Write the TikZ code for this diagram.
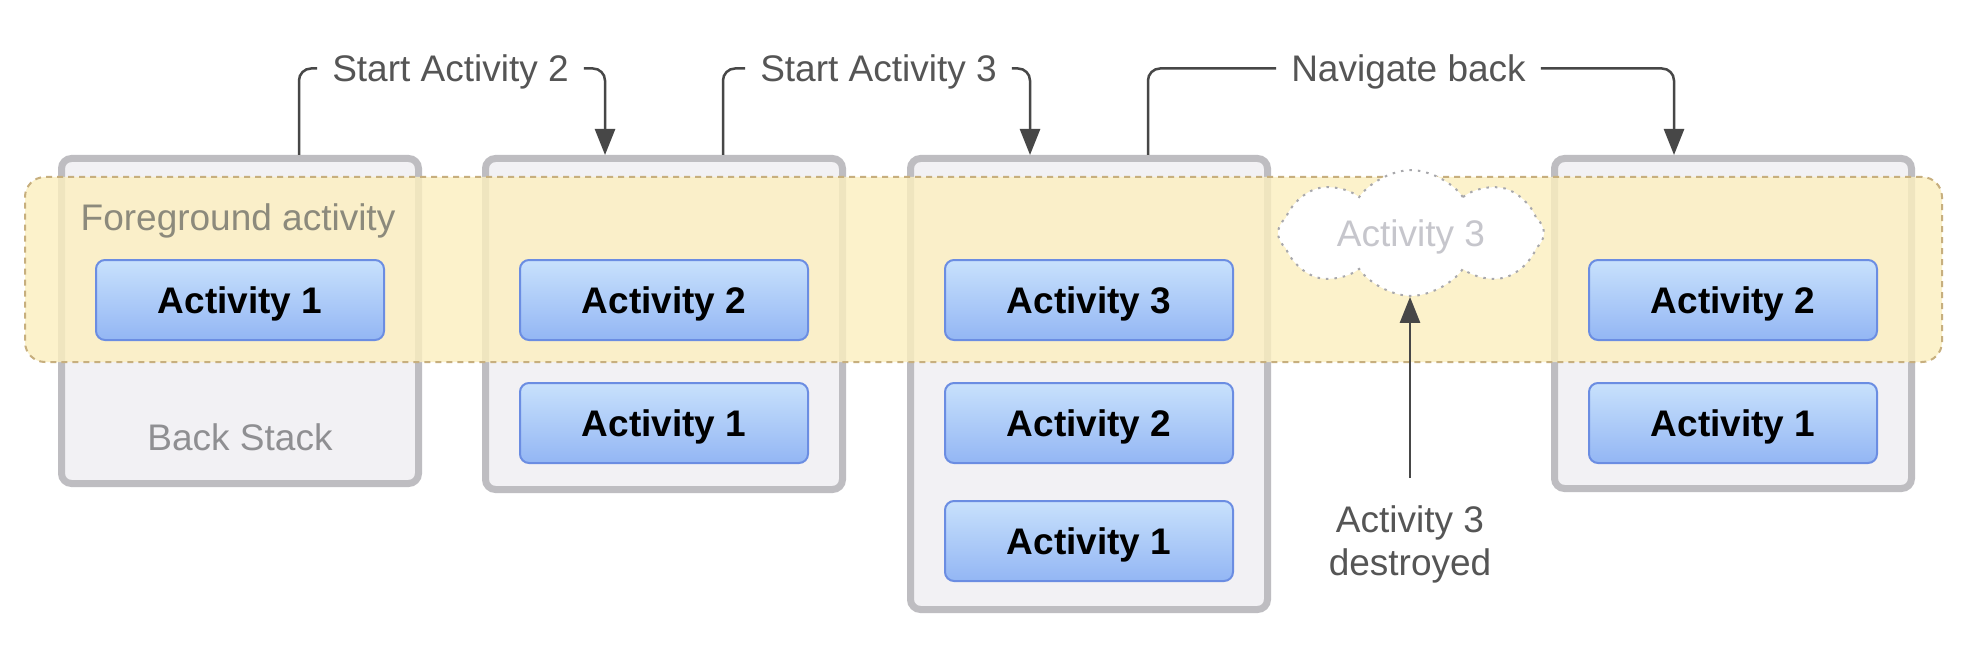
\documentclass[tikz,border=0pt]{standalone}
\usepackage{fontspec}
\setmainfont{Liberation Sans}
\usetikzlibrary{shapes.symbols,arrows.meta,calc}
\definecolor{boxfill}{HTML}{F2F1F4}
\definecolor{boxline}{HTML}{BEBDC1}
\definecolor{bandfill}{HTML}{FCEFBF}
\definecolor{bandline}{HTML}{C7AF7E}
\definecolor{btntop}{HTML}{C8E1FC}
\definecolor{btnbot}{HTML}{93B6F4}
\definecolor{btnline}{HTML}{6B8DE2}
\definecolor{conncol}{HTML}{474747}
\definecolor{labeltext}{HTML}{555555}
\definecolor{fgtext}{HTML}{8C8A7C}
\definecolor{bstext}{HTML}{8F8F92}
\definecolor{ghost}{HTML}{C6C6CC}
\definecolor{cloudline}{HTML}{A8A8AC}
\newcommand{\bigfont}{\fontsize{37}{43}\selectfont}
\begin{document}
\begin{tikzpicture}[x=1pt,y=-1pt,
  stackbox/.style={draw=boxline, line width=7pt, fill=boxfill, rounded corners=10pt,
    minimum width=357pt, outer sep=3.5pt, inner sep=0pt},
  actbtn/.style={draw=btnline, line width=2pt, top color=btntop, bottom color=btnbot,
    rounded corners=9pt, minimum width=288pt, minimum height=80pt,
    font=\bfseries\bigfont, text=black, text height=26.5pt, text depth=0pt, inner sep=0pt},
  steplabel/.style={font=\bigfont, text=labeltext, inner xsep=15pt, inner ysep=0pt,
    text height=26.5pt, text depth=0pt},
  plainlabel/.style={font=\bigfont, inner sep=0pt, text height=26.5pt, text depth=0pt},
  conn/.style={draw=conncol, line width=2.5pt, rounded corners=12pt},
  arrowed/.style={-{Triangle[length=26pt,width=20pt]}}
]
\useasboundingbox (0,0) rectangle (1974,666);
\fill[white] (0,0) rectangle (1974,666);

% stack boxes
\node[stackbox, minimum height=325pt] (s1) at (240,321) {};
\node[stackbox, minimum height=331pt] (s2) at (664,324) {};
\node[stackbox, minimum height=451pt] (s3) at (1089,384) {};
\node[stackbox, minimum height=330pt] (s4) at (1733,323.5) {};

% foreground band
\node[draw=bandline, dash pattern=on 6pt off 5pt, line width=2pt, fill=bandfill,
  fill opacity=0.8, rounded corners=20pt, minimum width=1917pt, minimum height=185pt,
  inner sep=0pt] (band) at (983.5,269.5) {};

% activity buttons
\node[actbtn] (a11) at (240,300) {Activity 1};
\node[actbtn] (a22) at (664,300) {Activity 2};
\node[actbtn] (a21) at (664,423) {Activity 1};
\node[actbtn] (a33) at (1089,300) {Activity 3};
\node[actbtn] (a32) at (1089,423) {Activity 2};
\node[actbtn] (a31) at (1089,541) {Activity 1};
\node[actbtn] (a42) at (1733,300) {Activity 2};
\node[actbtn] (a41) at (1733,423) {Activity 1};

% box labels
\node[plainlabel, text=fgtext] (fg) at (238,217.5) {Foreground activity};
\node[plainlabel, text=bstext] (bs) at (240,437.5) {Back Stack};

% destroyed cloud
\node[cloud, cloud puffs=8, cloud puff arc=110, aspect=2.3, draw=cloudline,
  dash pattern=on 2.5pt off 6pt, line width=2pt, fill=white,
  minimum width=266pt, minimum height=120pt, inner sep=0pt,
  font=\bigfont, text=ghost, text height=26.5pt, text depth=0pt] (cl) at (1411,233) {Activity 3};

% step labels
\node[steplabel] (t1) at (450.5,68.5) {Start Activity 2};
\node[steplabel] (t2) at (878.5,68.5) {Start Activity 3};
\node[steplabel] (t3) at (1408.5,68.5) {Navigate back};

% connectors
\draw[conn] ([xshift=59pt]s1.north) |- (t1.west);
\draw[conn, arrowed] (t1.east) -| ([xshift=-59pt]s2.north);
\draw[conn] ([xshift=59pt]s2.north) |- (t2.west);
\draw[conn, arrowed] (t2.east) -| ([xshift=-59pt]s3.north);
\draw[conn] ([xshift=59pt]s3.north) |- (t3.west);
\draw[conn, arrowed] (t3.east) -| ([xshift=-59pt]s4.north);

% destroyed label and arrow
\node[font=\bigfont, text=labeltext, align=center, anchor=north, inner sep=0pt] (ds) at (1410,505) {Activity 3\\destroyed};
\draw[conn, arrowed] ([yshift=27pt]ds.north) -- (ds.north |- cl.south);
\end{tikzpicture}
\end{document}
